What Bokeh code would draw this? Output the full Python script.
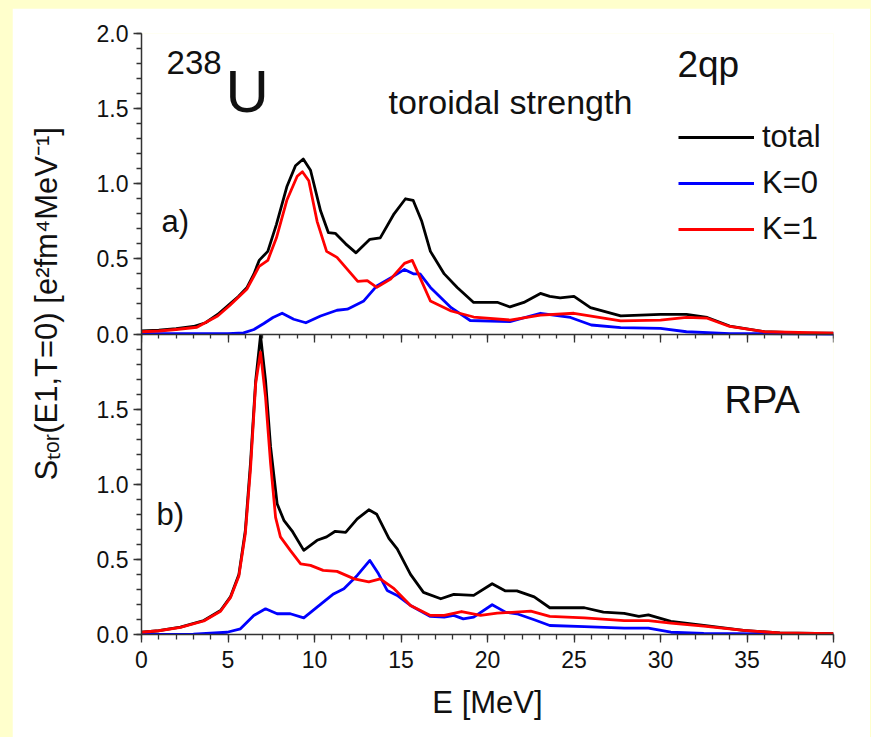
import numpy as np
from bokeh.plotting import figure
from bokeh.models import Range1d, LinearAxis, FixedTicker, Label, Legend, LegendItem
from bokeh.embed import file_html
from bokeh.resources import INLINE

FONT = "Liberation Sans"

# ---------------- data ----------------
# panel a) 2qp
e_a_total = [0.0, 1.0, 2.0, 3.0, 3.7, 4.4, 5.1, 5.6, 6.1, 6.5, 6.8, 7.3, 7.8, 8.4, 8.9, 9.35, 9.77,
             10.35, 10.8, 11.2, 11.8, 12.4, 13.2, 13.8, 14.6, 15.26, 15.7, 16.2, 16.7, 17.5, 18.25,
             19.2, 20.6, 21.3, 22.1, 23.06, 23.6, 24.2, 25.0, 25.95, 27.7, 30.0, 31.5, 32.7, 34.0,
             36.0, 38.0, 40.0]
s_a_total = [0.020, 0.025, 0.035, 0.050, 0.075, 0.13, 0.20, 0.25, 0.31, 0.40, 0.49, 0.55, 0.73, 0.98,
             1.12, 1.165, 1.09, 0.82, 0.675, 0.67, 0.60, 0.54, 0.63, 0.64, 0.80, 0.90, 0.89, 0.75,
             0.55, 0.40, 0.31, 0.21, 0.21, 0.18, 0.21, 0.27, 0.25, 0.24, 0.25, 0.175, 0.12, 0.13,
             0.13, 0.11, 0.053, 0.015, 0.007, 0.005]

e_a_k1 = [0.0, 1.0, 2.0, 3.2, 4.4, 5.1, 6.1, 6.8, 7.3, 7.8, 8.4, 9.0, 9.3, 9.67, 10.15, 10.7, 11.3,
          12.5, 13.05, 13.6, 14.4, 15.2, 15.65, 16.1, 16.7, 17.9, 19.2, 21.3, 23.06, 25.0, 27.7,
          30.0, 31.5, 32.7, 34.0, 36.0, 40.0]
s_a_k1 = [0.015, 0.02, 0.03, 0.045, 0.12, 0.19, 0.30, 0.45, 0.49, 0.64, 0.89, 1.05, 1.08, 1.02, 0.75,
          0.55, 0.51, 0.35, 0.355, 0.31, 0.365, 0.47, 0.49, 0.375, 0.22, 0.153, 0.113, 0.093,
          0.125, 0.138, 0.087, 0.093, 0.11, 0.105, 0.05, 0.015, 0.005]

e_a_k0 = [0.0, 5.0, 5.9, 6.5, 7.07, 7.6, 8.13, 8.8, 9.5, 10.35, 11.3, 11.9, 12.85, 13.6, 14.6, 15.2,
          15.74, 16.1, 16.7, 17.9, 19.0, 21.3, 23.06, 24.8, 26.0, 27.7, 30.0, 31.5, 34.0, 40.0]
s_a_k0 = [0.002, 0.003, 0.007, 0.03, 0.07, 0.11, 0.138, 0.098, 0.075, 0.12, 0.158, 0.165, 0.22, 0.32,
          0.387, 0.43, 0.40, 0.40, 0.31, 0.175, 0.09, 0.082, 0.138, 0.11, 0.06, 0.042, 0.038,
          0.015, 0.003, 0.0]

# panel b) RPA
e_b_total = [0.0, 1.0, 2.25, 3.6, 4.57, 5.14, 5.63, 6.0, 6.3, 6.6, 6.88, 7.17, 7.46, 7.84, 8.23, 8.7,
             9.38, 10.15, 10.7, 11.2, 11.8, 12.47, 13.14, 13.6, 14.3, 14.78, 15.55, 16.3, 17.3,
             18.05, 19.2, 20.27, 21.04, 21.7, 22.7, 23.6, 25.6, 26.7, 27.9, 28.75, 29.3, 30.6,
             32.5, 34.8, 36.9, 40.0]
s_b_total = [0.015, 0.025, 0.049, 0.093, 0.16, 0.25, 0.40, 0.69, 1.14, 1.69, 1.99, 1.69, 1.25, 0.87,
             0.76, 0.69, 0.56, 0.627, 0.65, 0.687, 0.68, 0.77, 0.83, 0.80, 0.64, 0.57, 0.40, 0.28,
             0.238, 0.267, 0.26, 0.338, 0.29, 0.29, 0.25, 0.178, 0.178, 0.149, 0.14, 0.12, 0.13,
             0.087, 0.06, 0.027, 0.01, 0.005]

e_b_k1 = [0.0, 1.0, 2.25, 3.6, 4.57, 5.14, 5.63, 6.0, 6.3, 6.6, 6.88, 7.17, 7.46, 7.75, 8.03, 8.6,
          9.2, 9.77, 10.5, 11.3, 12.3, 13.14, 13.8, 14.6, 15.55, 16.7, 17.5, 18.5, 19.6, 20.56,
          22.5, 23.6, 25.6, 27.9, 29.3, 30.6, 32.5, 34.8, 36.9, 40.0]
s_b_k1 = [0.015, 0.025, 0.048, 0.09, 0.155, 0.245, 0.39, 0.67, 1.10, 1.67, 1.88, 1.58, 1.14, 0.78,
          0.65, 0.56, 0.47, 0.46, 0.427, 0.42, 0.37, 0.35, 0.37, 0.305, 0.193, 0.127, 0.127,
          0.153, 0.127, 0.142, 0.155, 0.12, 0.111, 0.093, 0.093, 0.076, 0.056, 0.027, 0.01, 0.005]

e_b_k0 = [0.0, 3.0, 4.95, 5.72, 6.49, 7.17, 7.84, 8.6, 9.38, 10.15, 11.1, 11.7, 12.47, 13.2, 13.7,
          14.2, 14.78, 15.55, 16.7, 17.5, 18.05, 18.6, 19.2, 20.27, 21.04, 21.7, 22.7, 23.6,
          25.6, 27.9, 29.3, 30.6, 32.5, 40.0]
s_b_k0 = [0.0, 0.002, 0.015, 0.038, 0.127, 0.171, 0.138, 0.138, 0.111, 0.182, 0.27, 0.305, 0.393,
          0.493, 0.404, 0.293, 0.26, 0.193, 0.12, 0.116, 0.127, 0.104, 0.116, 0.198, 0.149,
          0.138, 0.098, 0.06, 0.053, 0.042, 0.042, 0.015, 0.007, 0.0]

series_names = ["total", "K=0", "K=1"]
x_ticks = [0, 5, 10, 15, 20, 25, 30, 35, 40]
x_tick_labels = ["0", "5", "10", "15", "20", "25", "30", "35", "40"]
y_ticks_b = [0, 0.5, 1, 1.5]                 # lower panel b)
y_ticks_a = [0, 0.5, 1, 1.5, 2]              # upper panel a)
y_tick_labels_b = ["0.0", "0.5", "1.0", "1.5"]
y_tick_labels_a = ["0.0", "0.5", "1.0", "1.5", "2.0"]
y_title = "S\u209c\u2092\u1d63(E1,T=0) [e\u00b2fm\u2074MeV\u207b\u00b9]"

# ---------------- style ----------------
C_TOT, C_K0, C_K1 = "#000000", "#0000FF", "#FF0000"
AX = "#333333"
TXT = "#111111"
LW = 2.8
TICK_FS = "23px"
PANEL = 2.0          # height of one panel in data units; panel a) sits on top of panel b)

x_minor = list(range(0, 41))
y_minor = [round(0.1 * i, 1) for i in range(0, 41)]

p = figure(width=858, height=729, x_range=Range1d(0, 40), y_range=Range1d(0, 2 * PANEL),
           output_backend="svg", toolbar_location=None,
           min_border_left=129, min_border_right=37, min_border_top=25, min_border_bottom=103)
p.extra_y_ranges = {"a": Range1d(-PANEL, PANEL)}
p.grid.visible = False
p.outline_line_color = None
p.border_fill_color = "white"
p.background_fill_color = "white"

# ----- left axis: both panels on one axis line
ya = p.yaxis[0]
tick_pos = list(y_ticks_b) + [PANEL + t for t in y_ticks_a]
tick_lab = list(y_tick_labels_b) + list(y_tick_labels_a)
ya.ticker = FixedTicker(ticks=tick_pos, minor_ticks=y_minor)
ya.major_label_overrides = {(int(t) if float(t).is_integer() else t): l for t, l in zip(tick_pos, tick_lab)}
ya.major_tick_out = 8
ya.major_tick_in = 0
ya.minor_tick_out = 5
ya.minor_tick_in = 0
ya.major_label_standoff = 5
ya.major_label_text_font = FONT
ya.major_label_text_font_size = TICK_FS
ya.major_label_text_color = TXT
ya.axis_line_color = AX
ya.axis_line_width = 1.5
ya.major_tick_line_color = AX
ya.minor_tick_line_color = AX
ya.major_tick_line_width = 1.3
ya.minor_tick_line_width = 1.3
# the title is centred a little above the panel boundary: pad its start with no-break spaces
ya.axis_label = "\u00a0" * 7 + y_title
ya.axis_label_text_font = FONT
ya.axis_label_text_font_size = "31px"
ya.axis_label_text_font_style = "normal"
ya.axis_label_text_color = TXT
ya.axis_label_standoff = 30

# ----- bottom axis
xb = p.xaxis[0]
xb.ticker = FixedTicker(ticks=x_ticks, minor_ticks=x_minor)
xb.major_label_overrides = dict(zip(x_ticks, x_tick_labels))
xb.major_tick_out = 8
xb.major_tick_in = 0
xb.minor_tick_out = 5
xb.minor_tick_in = 0
xb.major_label_standoff = 8
xb.major_label_text_font = FONT
xb.major_label_text_font_size = TICK_FS
xb.major_label_text_color = TXT
xb.axis_line_color = AX
xb.axis_line_width = 1.5
xb.major_tick_line_color = AX
xb.minor_tick_line_color = AX
xb.major_tick_line_width = 1.3
xb.minor_tick_line_width = 1.3
xb.axis_label = "E [MeV]"
xb.axis_label_text_font = FONT
xb.axis_label_text_font_size = "31px"
xb.axis_label_text_font_style = "normal"
xb.axis_label_text_color = TXT
xb.axis_label_standoff = 14

# ----- middle axis between the panels (drawn inside the frame at the panel boundary)
mid = LinearAxis(ticker=FixedTicker(ticks=x_ticks, minor_ticks=x_minor), fixed_location=PANEL,
                 major_tick_out=8, major_tick_in=0, minor_tick_out=4, minor_tick_in=0,
                 major_label_overrides={t: "" for t in x_ticks}, major_label_standoff=0,
                 axis_line_color=AX, axis_line_width=1.5,
                 major_tick_line_color=AX, minor_tick_line_color=AX,
                 major_tick_line_width=1.3, minor_tick_line_width=1.3)
p.add_layout(mid, "below")

# ----- curves
ra_tot = p.line(e_a_total, s_a_total, y_range_name="a", line_color=C_TOT, line_width=LW, line_join="round")
ra_k0 = p.line(e_a_k0, s_a_k0, y_range_name="a", line_color=C_K0, line_width=LW, line_join="round")
ra_k1 = p.line(e_a_k1, s_a_k1, y_range_name="a", line_color=C_K1, line_width=LW, line_join="round")

rb_tot = p.line(e_b_total, s_b_total, line_color=C_TOT, line_width=LW, line_join="round")
rb_k0 = p.line(e_b_k0, s_b_k0, line_color=C_K0, line_width=LW, line_join="round")
rb_k1 = p.line(e_b_k1, s_b_k1, line_color=C_K1, line_width=LW, line_join="round")

legend = Legend(items=[LegendItem(label=series_names[0], renderers=[ra_tot]),
                       LegendItem(label=series_names[1], renderers=[ra_k0]),
                       LegendItem(label=series_names[2], renderers=[ra_k1])],
                location=(537, 387), glyph_width=76, glyph_height=36, label_height=36,
                label_standoff=8, spacing=10, padding=0, margin=0,
                border_line_alpha=0, background_fill_alpha=0,
                label_text_font=FONT, label_text_font_size="31px", label_text_color=TXT)
p.add_layout(legend)


def txt(x, y, t, fs, rng="default"):
    p.add_layout(Label(x=x, y=y, text=t, y_range_name=rng, text_font=FONT,
                       text_font_size=f"{fs}px", text_align="left", text_baseline="middle",
                       text_color=TXT))


txt(1.45, 1.804, "238", 33, "a")
txt(4.86, 1.611, "U", 60, "a")
txt(14.28, 1.547, "toroidal strength", 34, "a")
txt(30.98, 1.794, "2qp", 37, "a")
txt(1.16, 0.749, "a)", 31, "a")
txt(0.87, 0.799, "b)", 31)
txt(33.7, 1.559, "RPA", 38)

html = file_html(p, INLINE, title="toroidal strength")
html = html.replace("</head>",
                    "<style>html,body{margin:0;padding:0;background:#FFFFCC;overflow:hidden;}"
                    "body{padding:8px 0 0 12px;}</style></head>", 1)
open("out.html", "w").write(html)
